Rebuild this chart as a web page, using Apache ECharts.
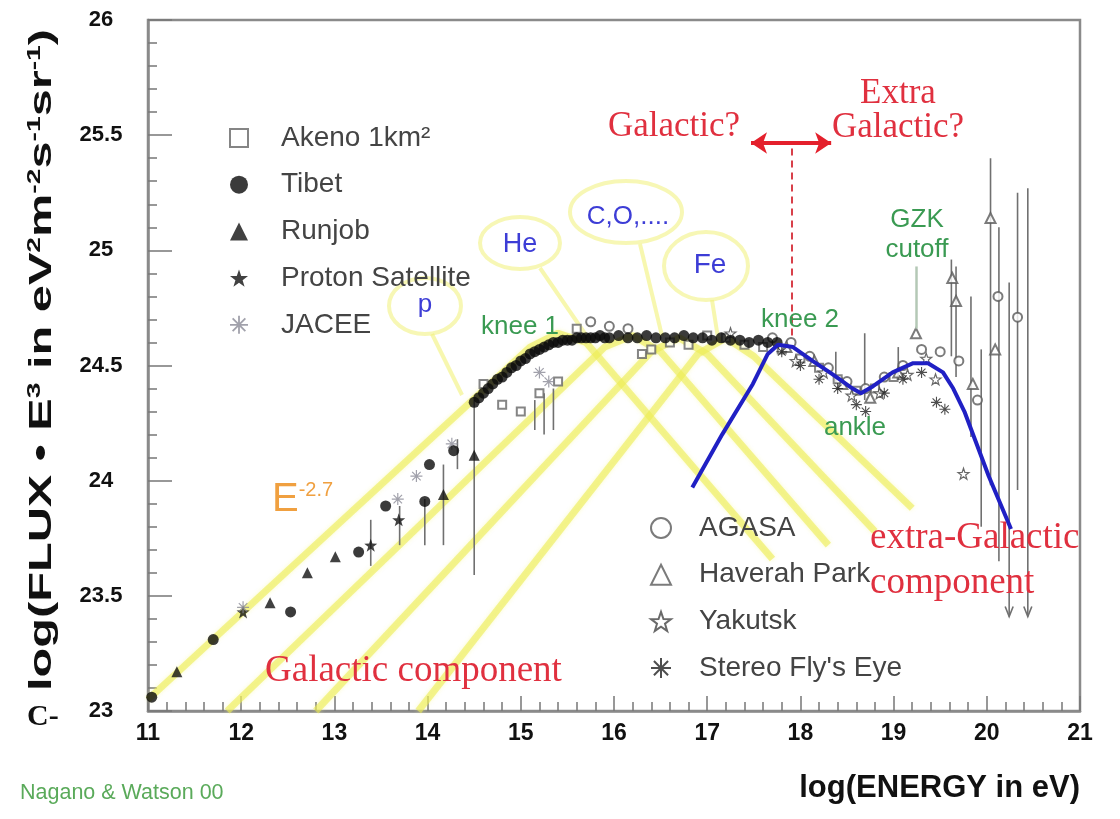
<!DOCTYPE html>
<html>
<head>
<meta charset="utf-8">
<script src="https://cdn.jsdelivr.net/npm/echarts@6/dist/echarts.min.js"></script>
<style>
  html, body { margin: 0; padding: 0; background: #fff; }
  #chart { width: 1120px; height: 819px; }
</style>
</head>
<body>
<div id="chart"></div>
<script>
// Axis ranges: log10(E / eV) and log10(E^3 * flux)
const xTicks = [11, 12, 13, 14, 15, 16, 17, 18, 19, 20, 21];
const yTicks = [23, 23.5, 24, 24.5, 25, 25.5, 26];

// Measurements, [log E, log(E^3 J)]
const tibet = [
  [11.04, 23.06], [11.70, 23.31], [12.53, 23.43], [13.26, 23.69], [13.55, 23.89],
  [13.97, 23.91], [14.02, 24.07], [14.28, 24.13],
  [14.50, 24.34], [14.55, 24.36], [14.60, 24.38], [14.65, 24.40], [14.70, 24.42],
  [14.75, 24.44], [14.80, 24.45], [14.85, 24.47], [14.90, 24.49], [14.95, 24.50],
  [15.00, 24.52], [15.05, 24.53], [15.10, 24.55], [15.15, 24.56], [15.20, 24.57],
  [15.25, 24.58], [15.30, 24.59], [15.35, 24.60], [15.40, 24.60], [15.45, 24.61],
  [15.50, 24.61], [15.55, 24.61], [15.60, 24.62], [15.65, 24.62], [15.70, 24.62],
  [15.75, 24.62], [15.80, 24.62], [15.85, 24.63], [15.90, 24.62], [15.95, 24.62],
  [16.05, 24.63], [16.15, 24.62], [16.25, 24.62], [16.35, 24.63], [16.45, 24.62],
  [16.55, 24.62], [16.65, 24.62], [16.75, 24.63], [16.85, 24.62], [16.95, 24.62],
  [17.05, 24.61], [17.15, 24.62], [17.25, 24.61], [17.35, 24.61], [17.45, 24.60],
  [17.55, 24.61], [17.65, 24.60], [17.75, 24.60]
];
const runjob = [
  [11.31, 23.17], [12.31, 23.47], [12.71, 23.60], [13.01, 23.67], [14.17, 23.94], [14.50, 24.11]
];
const protonSatellite = [[12.02, 23.43], [13.39, 23.72], [13.69, 23.83]];
const jacee = [[12.02, 23.45], [13.68, 23.92], [13.88, 24.02], [14.26, 24.16], [15.20, 24.47], [15.30, 24.43]];
const akeno = [
  [14.60, 24.42], [14.80, 24.33], [15.00, 24.30], [15.20, 24.38], [15.40, 24.43], [15.60, 24.66],
  [16.30, 24.55], [16.40, 24.57], [16.60, 24.60], [16.80, 24.59], [17.00, 24.63], [17.20, 24.62],
  [17.40, 24.59], [17.60, 24.58], [17.80, 24.57], [18.00, 24.53], [18.20, 24.49], [18.40, 24.44],
  [18.60, 24.39], [18.80, 24.40], [19.00, 24.45]
];
const agasa = [
  [15.75, 24.69], [15.95, 24.67], [16.15, 24.66], [17.70, 24.62], [17.90, 24.60], [18.10, 24.54],
  [18.30, 24.49], [18.50, 24.43], [18.70, 24.40], [18.90, 24.45], [19.10, 24.50], [19.30, 24.57],
  [19.50, 24.56], [19.70, 24.52], [19.90, 24.35], [20.12, 24.80], [20.33, 24.71]
];
const haverahPark = [
  [17.85, 24.58], [18.15, 24.52], [18.45, 24.42], [18.75, 24.36], [19.05, 24.47], [19.24, 24.64],
  [19.63, 24.88], [19.67, 24.78], [19.85, 24.42], [20.04, 25.14], [20.09, 24.57]
];
const yakutsk = [
  [17.25, 24.64], [17.95, 24.52], [18.25, 24.47], [18.55, 24.37], [18.85, 24.38], [19.15, 24.46],
  [19.35, 24.53], [19.45, 24.44], [19.75, 24.03]
];
const flysEye = [
  [17.80, 24.56], [18.00, 24.50], [18.20, 24.44], [18.40, 24.40], [18.60, 24.33], [18.70, 24.30],
  [18.90, 24.38], [19.10, 24.44], [19.30, 24.47], [19.46, 24.34], [19.55, 24.31]
];

// Error bars: [log E, low, high, upper-limit arrow]
const errBars = [
  [13.39, 23.63, 23.83, 0], [13.70, 23.72, 23.89, 0], [13.97, 23.72, 23.92, 0],
  [14.17, 23.72, 24.07, 0], [14.32, 24.05, 24.18, 0], [14.50, 23.59, 24.35, 0],
  [15.15, 24.22, 24.35, 0], [15.25, 24.20, 24.38, 0], [15.35, 24.22, 24.40, 0],
  [18.38, 24.42, 24.56, 0], [18.69, 24.35, 24.64, 0], [19.05, 24.44, 24.58, 0],
  [19.62, 24.54, 24.96, 0], [19.67, 24.45, 24.93, 0], [19.83, 24.19, 24.80, 0],
  [19.94, 23.80, 24.57, 0], [20.04, 23.98, 25.40, 0], [20.13, 23.65, 25.10, 0],
  [20.24, 23.41, 24.86, 1], [20.33, 23.96, 25.25, 0], [20.44, 23.41, 25.27, 1]
];

// Galactic component model curves (p, He, CNO, Fe)
const compP   = [[11.0, 23.05], [15.1, 24.58], [15.4, 24.64], [15.7, 24.60], [17.7, 23.66]];
const compHe  = [[11.85, 23.0], [15.9, 24.58], [16.2, 24.63], [16.5, 24.56], [18.3, 23.72]];
const compCNO = [[12.8, 23.0], [16.4, 24.56], [16.7, 24.62], [17.0, 24.55], [18.8, 23.78]];
const compFe  = [[13.9, 23.0], [16.9, 24.55], [17.2, 24.62], [17.5, 24.54], [19.2, 23.88]];

// Extra-Galactic component model
const extraGal = [
  [16.84, 23.97], [17.16, 24.20], [17.49, 24.42], [17.65, 24.55], [17.76, 24.59], [17.92, 24.58],
  [18.13, 24.52], [18.35, 24.46], [18.56, 24.40], [18.65, 24.38], [18.78, 24.41], [18.99, 24.47],
  [19.21, 24.51], [19.37, 24.51], [19.53, 24.47], [19.64, 24.40], [19.76, 24.30], [19.89, 24.16],
  [20.02, 24.02], [20.26, 23.79]
];

// Transition marker and GZK pointer, in data coordinates
const transitionArrow = [[17.47, 25.466], [18.33, 25.466]];
const transitionDash = [[17.91, 24.63], [17.91, 25.45]];
const gzkPointer = [[19.24, 24.66], [19.24, 24.93]];

const STAR = 'path://M0,-10L2.35,-3.24L9.51,-3.09L3.8,1.24L5.88,8.09L0,4L-5.88,8.09L-3.8,1.24L-9.51,-3.09L-2.35,-3.24Z';
const ASTER = 'path://M-1,-10L1,-10L1,10L-1,10Z M-10,-1L10,-1L10,1L-10,1Z M-7.78,-6.36L-6.36,-7.78L7.78,6.36L6.36,7.78Z M6.36,-7.78L7.78,-6.36L-6.36,7.78L-7.78,6.36Z';

const SANS = "'Liberation Sans', Arial, sans-serif";
const NARROW = "'Liberation Sans Narrow', 'Liberation Sans', sans-serif";
const SERIF = "'Liberation Serif', 'Times New Roman', serif";
const RED = '#e0303f';
const GREEN = '#3a9a52';
const BLUE_TXT = '#3d3dd6';
const YELLOW = 'rgba(236,236,80,0.58)';

function component(name, data) {
  return {
    type: 'line', name, data, symbol: 'none', silent: true, z: 1,
    lineStyle: { color: YELLOW, width: 7, shadowBlur: 4, shadowColor: 'rgba(245,245,130,0.7)' }
  };
}

function scatter(name, data, symbol, size, itemStyle, z) {
  return { type: 'scatter', name, data, symbol, symbolSize: size, itemStyle, z: z || 4, silent: true };
}

const legendText = { fontFamily: SANS, fontSize: 28, color: '#444', lineHeight: 30 };

const chart = echarts.init(document.getElementById('chart'), null, { renderer: 'canvas' });

const option = {
  backgroundColor: '#fff',
  animation: false,
  grid: { left: 148, right: 40, top: 20, bottom: 108, show: true, borderColor: '#8a8a8a', borderWidth: 2.5 },
  xAxis: {
    type: 'value', min: xTicks[0], max: xTicks[xTicks.length - 1], interval: 1,
    name: 'log(ENERGY in eV)', nameLocation: 'end', nameGap: 0,
    nameTextStyle: { fontFamily: SANS, fontWeight: 'bold', fontSize: 31, color: '#111',
      align: 'right', verticalAlign: 'top', padding: [62, 0, 0, 0] },
    axisLine: { lineStyle: { color: '#8a8a8a', width: 2.5 } },
    axisTick: { inside: true, length: 15, lineStyle: { color: '#777', width: 1.5 } },
    minorTick: { show: true, splitNumber: 5, length: 9, lineStyle: { color: '#777', width: 1.5 } },
    splitLine: { show: false },
    axisLabel: { margin: 11, fontFamily: NARROW, fontWeight: 'bold', fontSize: 23, color: '#111' }
  },
  yAxis: {
    type: 'value', min: yTicks[0], max: yTicks[yTicks.length - 1], interval: 0.5,
    axisLine: { lineStyle: { color: '#8a8a8a', width: 2.5 } },
    axisTick: { inside: true, length: 24, lineStyle: { color: '#777', width: 1.5 } },
    minorTick: { show: true, splitNumber: 5, length: 9, lineStyle: { color: '#777', width: 1.5 } },
    splitLine: { show: false },
    axisLabel: { margin: 47, align: 'center', fontFamily: SANS, fontWeight: 'bold', fontSize: 22, color: '#111' }
  },
  legend: [
    {
      orient: 'vertical', left: 229, top: 123, padding: 0, itemWidth: 18, itemHeight: 18, itemGap: 16.7,
      selectedMode: false,
      textStyle: Object.assign({ padding: [0, 0, 0, 28] }, legendText),
      data: ['Akeno 1km²', 'Tibet', 'Runjob', 'Proton Satellite', 'JACEE']
    },
    {
      orient: 'vertical', left: 650, top: 513, padding: 0, itemWidth: 20, itemHeight: 20, itemGap: 16.7,
      selectedMode: false,
      textStyle: Object.assign({ padding: [0, 0, 0, 23] }, legendText),
      data: ['AGASA', 'Haverah Park', 'Yakutsk', "Stereo Fly's Eye"]
    }
  ],
  series: [
    component('p', compP),
    component('He', compHe),
    component('CNO', compCNO),
    component('Fe', compFe),
    {
      type: 'custom', name: 'errors', data: errBars, z: 3, silent: true,
      encode: { x: 0, y: [1, 2] },
      renderItem(params, api) {
        const x = api.value(0);
        const top = api.coord([x, api.value(2)]);
        const bot = api.coord([x, api.value(1)]);
        const kids = [{
          type: 'line',
          shape: { x1: top[0], y1: top[1], x2: bot[0], y2: bot[1] },
          style: { stroke: '#707070', lineWidth: 1.6 }
        }];
        if (api.value(3)) {
          kids.push({
            type: 'polyline',
            shape: { points: [[bot[0] - 4, bot[1] - 10], [bot[0], bot[1]], [bot[0] + 4, bot[1] - 10]] },
            style: { stroke: '#707070', lineWidth: 1.6, fill: null }
          });
        }
        return { type: 'group', children: kids };
      }
    },
    scatter('Akeno 1km²', akeno, 'emptyRect', 8, { color: '#666', borderWidth: 1.3 }),
    scatter('Tibet', tibet, 'circle', 11, { color: '#0a0a0a' }, 5),
    scatter('Runjob', runjob, 'triangle', 11, { color: '#111' }),
    scatter('Proton Satellite', protonSatellite, STAR, 13, { color: '#111' }),
    scatter('JACEE', jacee, ASTER, 12, { color: '#8a8a96' }),
    scatter('AGASA', agasa, 'emptyCircle', 9, { color: '#5a5a5a', borderWidth: 1.3 }),
    scatter('Haverah Park', haverahPark, 'emptyTriangle', 10, { color: '#5a5a5a', borderWidth: 1.3 }),
    scatter('Yakutsk', yakutsk, STAR, 11, { color: '#fff', borderColor: '#444', borderWidth: 1.2 }),
    scatter("Stereo Fly's Eye", flysEye, ASTER, 11, { color: '#222' }),
    {
      type: 'line', name: 'extra-Galactic', data: extraGal, symbol: 'none', silent: true, z: 6,
      lineStyle: { color: '#2020c4', width: 4 }
    },
    {
      type: 'line', name: 'markers', data: [], silent: true, z: 7,
      markLine: {
        silent: true, animation: false, label: { show: false },
        data: [
          [
            { coord: transitionArrow[0], symbol: 'arrow', symbolSize: 16, lineStyle: { color: '#e4202c', width: 4, type: 'solid' } },
            { coord: transitionArrow[1], symbol: 'arrow', symbolSize: 16 }
          ],
          [
            { coord: transitionDash[0], symbol: 'none', lineStyle: { color: '#d8404a', width: 2, type: [7, 5] } },
            { coord: transitionDash[1], symbol: 'none' }
          ],
          [
            { coord: gzkPointer[0], symbol: 'none', lineStyle: { color: '#b4c8b6', width: 2.5, type: 'solid' } },
            { coord: gzkPointer[1], symbol: 'none' }
          ]
        ]
      }
    }
  ],
  graphic: [
    // vertical axis title, stretched along its length
    { type: 'text', x: 42, y: 360, rotation: Math.PI / 2, scaleX: 1.57, style: {
        text: '{a|log(FLUX • E}{s|3}{a| in eV}{s|2}{a|m}{s|-2}{a|s}{s|-1}{a|sr}{s|-1}{a|)}',
        align: 'center', verticalAlign: 'middle',
        rich: {
          a: { fontFamily: SANS, fontWeight: 'bold', fontSize: 31, fill: '#111' },
          s: { fontFamily: SANS, fontWeight: 'bold', fontSize: 18, fill: '#111', verticalAlign: 'top' }
        } } },

    // composition callout bubbles
    { type: 'line', shape: { x1: 432, y1: 334, x2: 462, y2: 395 }, style: { stroke: 'rgba(240,240,110,0.55)', lineWidth: 4 }, z: 0 },
    { type: 'line', shape: { x1: 540, y1: 268, x2: 588, y2: 338 }, style: { stroke: 'rgba(240,240,110,0.55)', lineWidth: 4 }, z: 0 },
    { type: 'line', shape: { x1: 640, y1: 244, x2: 662, y2: 336 }, style: { stroke: 'rgba(240,240,110,0.55)', lineWidth: 4 }, z: 0 },
    { type: 'line', shape: { x1: 712, y1: 300, x2: 718, y2: 338 }, style: { stroke: 'rgba(240,240,110,0.55)', lineWidth: 4 }, z: 0 },
    { type: 'ellipse', shape: { cx: 425, cy: 306, rx: 36, ry: 28 }, style: { fill: 'rgba(255,255,255,0.85)', stroke: 'rgba(240,240,120,0.55)', lineWidth: 4 }, z: 0 },
    { type: 'ellipse', shape: { cx: 520, cy: 243, rx: 40, ry: 26 }, style: { fill: 'rgba(255,255,255,0.85)', stroke: 'rgba(240,240,120,0.55)', lineWidth: 4 }, z: 0 },
    { type: 'ellipse', shape: { cx: 626, cy: 212, rx: 56, ry: 31 }, style: { fill: 'rgba(255,255,255,0.85)', stroke: 'rgba(240,240,120,0.55)', lineWidth: 4 }, z: 0 },
    { type: 'ellipse', shape: { cx: 706, cy: 266, rx: 42, ry: 34 }, style: { fill: 'rgba(255,255,255,0.85)', stroke: 'rgba(240,240,120,0.55)', lineWidth: 4 }, z: 0 },
    { type: 'text', x: 425, y: 305, style: { text: 'p', font: `26px ${SANS}`, fill: BLUE_TXT, align: 'center', verticalAlign: 'middle' } },
    { type: 'text', x: 520, y: 245, style: { text: 'He', font: `27px ${SANS}`, fill: BLUE_TXT, align: 'center', verticalAlign: 'middle' } },
    { type: 'text', x: 628, y: 217, style: { text: 'C,O,....', font: `26px ${SANS}`, fill: BLUE_TXT, align: 'center', verticalAlign: 'middle' } },
    { type: 'text', x: 710, y: 265, style: { text: 'Fe', font: `28px ${SANS}`, fill: BLUE_TXT, align: 'center', verticalAlign: 'middle' } },

    // feature labels
    { type: 'text', x: 520, y: 327, style: { text: 'knee 1', font: `26px ${SANS}`, fill: GREEN, align: 'center', verticalAlign: 'middle' }, z: 10 },
    { type: 'text', x: 800, y: 320, style: { text: 'knee 2', font: `26px ${SANS}`, fill: GREEN, align: 'center', verticalAlign: 'middle' }, z: 10 },
    { type: 'text', x: 855, y: 428, style: { text: 'ankle', font: `26px ${SANS}`, fill: GREEN, align: 'center', verticalAlign: 'middle' }, z: 10 },
    { type: 'text', x: 917, y: 220, style: { text: 'GZK', font: `26px ${SANS}`, fill: GREEN, align: 'center', verticalAlign: 'middle' }, z: 10 },
    { type: 'text', x: 917, y: 250, style: { text: 'cutoff', font: `26px ${SANS}`, fill: GREEN, align: 'center', verticalAlign: 'middle' }, z: 10 },

    { type: 'text', x: 674, y: 127, style: { text: 'Galactic?', font: `35px ${SERIF}`, fill: RED, align: 'center', verticalAlign: 'middle' }, z: 10 },
    { type: 'text', x: 898, y: 94, style: { text: 'Extra', font: `35px ${SERIF}`, fill: RED, align: 'center', verticalAlign: 'middle' }, z: 10 },
    { type: 'text', x: 898, y: 128, style: { text: 'Galactic?', font: `35px ${SERIF}`, fill: RED, align: 'center', verticalAlign: 'middle' }, z: 10 },

    { type: 'text', x: 272, y: 500, style: {
        text: '{e|E}{s|-2.7}', verticalAlign: 'middle',
        rich: {
          e: { fontFamily: SANS, fontSize: 40, fill: '#f0a040' },
          s: { fontFamily: SANS, fontSize: 20, fill: '#f0a040', verticalAlign: 'top' }
        } }, z: 10 },

    { type: 'text', x: 265, y: 671, style: { text: 'Galactic component', font: `37px ${SERIF}`, fill: RED, align: 'left', verticalAlign: 'middle' }, z: 10 },
    { type: 'text', x: 870, y: 538, style: { text: 'extra-Galactic', font: `37px ${SERIF}`, fill: RED, align: 'left', verticalAlign: 'middle' }, z: 10 },
    { type: 'text', x: 870, y: 583, style: { text: 'component', font: `37px ${SERIF}`, fill: RED, align: 'left', verticalAlign: 'middle' }, z: 10 },

    // credits and stray caption fragment
    { type: 'text', x: 20, y: 793, style: { text: 'Nagano & Watson 00', font: `21.5px ${SANS}`, fill: '#5aaa5a', align: 'left', verticalAlign: 'middle' } },
    { type: 'text', x: 27, y: 717, style: { text: 'C-', font: `bold 30px ${SERIF}`, fill: '#111', align: 'left', verticalAlign: 'middle' } }
  ]
};

chart.setOption(option);
</script>
</body>
</html>
